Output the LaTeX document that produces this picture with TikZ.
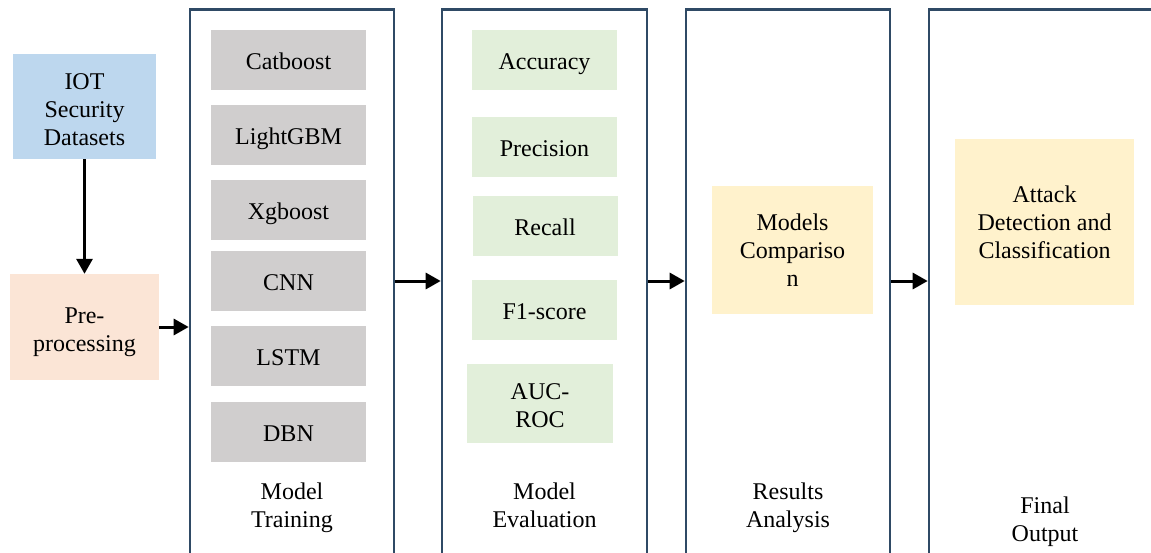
\documentclass[tikz,border=0pt]{standalone}
\usepackage{fontspec}
\setmainfont{Liberation Serif}
\usetikzlibrary{arrows.meta}
\definecolor{panelline}{RGB}{47,74,101}
\definecolor{iotblue}{RGB}{189,215,238}
\definecolor{prepeach}{RGB}{251,229,214}
\definecolor{algogray}{RGB}{208,206,206}
\definecolor{metricgreen}{RGB}{226,239,218}
\definecolor{resyellow}{RGB}{255,242,204}

\begin{document}
\begin{tikzpicture}[x=1pt,y=-1pt,
    font=\fontsize{24}{28}\selectfont,
    every node/.style={text depth=0pt},
    stage/.style={draw=panelline,line width=2.6pt,minimum height=600,anchor=north,inner sep=0pt},
    algo/.style={fill=algogray,minimum width=155,minimum height=60,inner sep=0pt,text height=19pt},
    metric/.style={fill=metricgreen,minimum width=145,minimum height=60,inner sep=0pt,text height=19pt},
    result/.style={fill=resyellow,inner sep=0pt,align=center},
    title/.style={inner sep=0pt,align=center},
    arr/.style={-{Triangle[length=15pt,width=16pt]},line width=3pt}]
    %initialisation
    \useasboundingbox (0,0) rectangle (1151,552);
    \clip (0,0) rectangle (1151,552);
    %input
    \node[fill=iotblue,minimum width=143,minimum height=105,inner sep=0pt,align=center,text height=77pt] (iot) at (84.5,106.5) {IOT\\Security\\Datasets};
    \node[fill=prepeach,minimum width=149,minimum height=106,inner sep=0pt,align=center,text height=48pt] (pre) at (84.5,327) {Pre-\\processing};
    %stages
    \node[stage,minimum width=204] (train) at (292,8) {};
    \node[stage,minimum width=205] (eval) at (544.5,8) {};
    \node[stage,minimum width=204] (results) at (788,8) {};
    \node[stage,minimum width=232] (final) at (1045,8) {};
    %models
    \node[algo] (catboost) at (288.5,60) {Catboost};
    \node[algo] (lightgbm) at (288.5,135) {LightGBM};
    \node[algo] (xgboost) at (288.5,210) {Xgboost};
    \node[algo] (cnn) at (288.5,281) {CNN};
    \node[algo] (lstm) at (288.5,356) {LSTM};
    \node[algo] (dbn) at (288.5,432) {DBN};
    %metrics
    \node[metric] (accuracy) at (544.5,60) {Accuracy};
    \node[metric] (precision) at (544.5,147) {Precision};
    \node[metric] (recall) at (545,226) {Recall};
    \node[metric] (fscore) at (544.5,310) {F1-score};
    \node[metric,minimum width=146,minimum height=79,align=center,text height=47pt] (aucroc) at (540,403.5) {AUC-\\ROC};
    %results
    \node[result,minimum width=161,minimum height=128] (compare) at (792.5,250) {Models\\Compariso\\n};
    \node[result,minimum width=179,minimum height=166] (attack) at (1044.5,222) {Attack\\Detection and\\Classification};
    %label
    \node[title] (trainlbl) at (292,505) {Model\\Training};
    \node[title] (evallbl) at (544.5,505) {Model\\Evaluation};
    \node[title] (resultslbl) at (788,505) {Results\\Analysis};
    \node[title] (finallbl) at (1045,519) {Final\\Output};
    %drawing
    \draw[arr] (iot) -- (pre);
    \draw[arr] (pre.east) -- (pre -| train.west);
    \draw[arr] (cnn -| train.east) -- (cnn -| eval.west);
    \draw[arr] (cnn -| eval.east) -- (cnn -| results.west);
    \draw[arr] (cnn -| results.east) -- (cnn -| final.west);
\end{tikzpicture}
\end{document}
